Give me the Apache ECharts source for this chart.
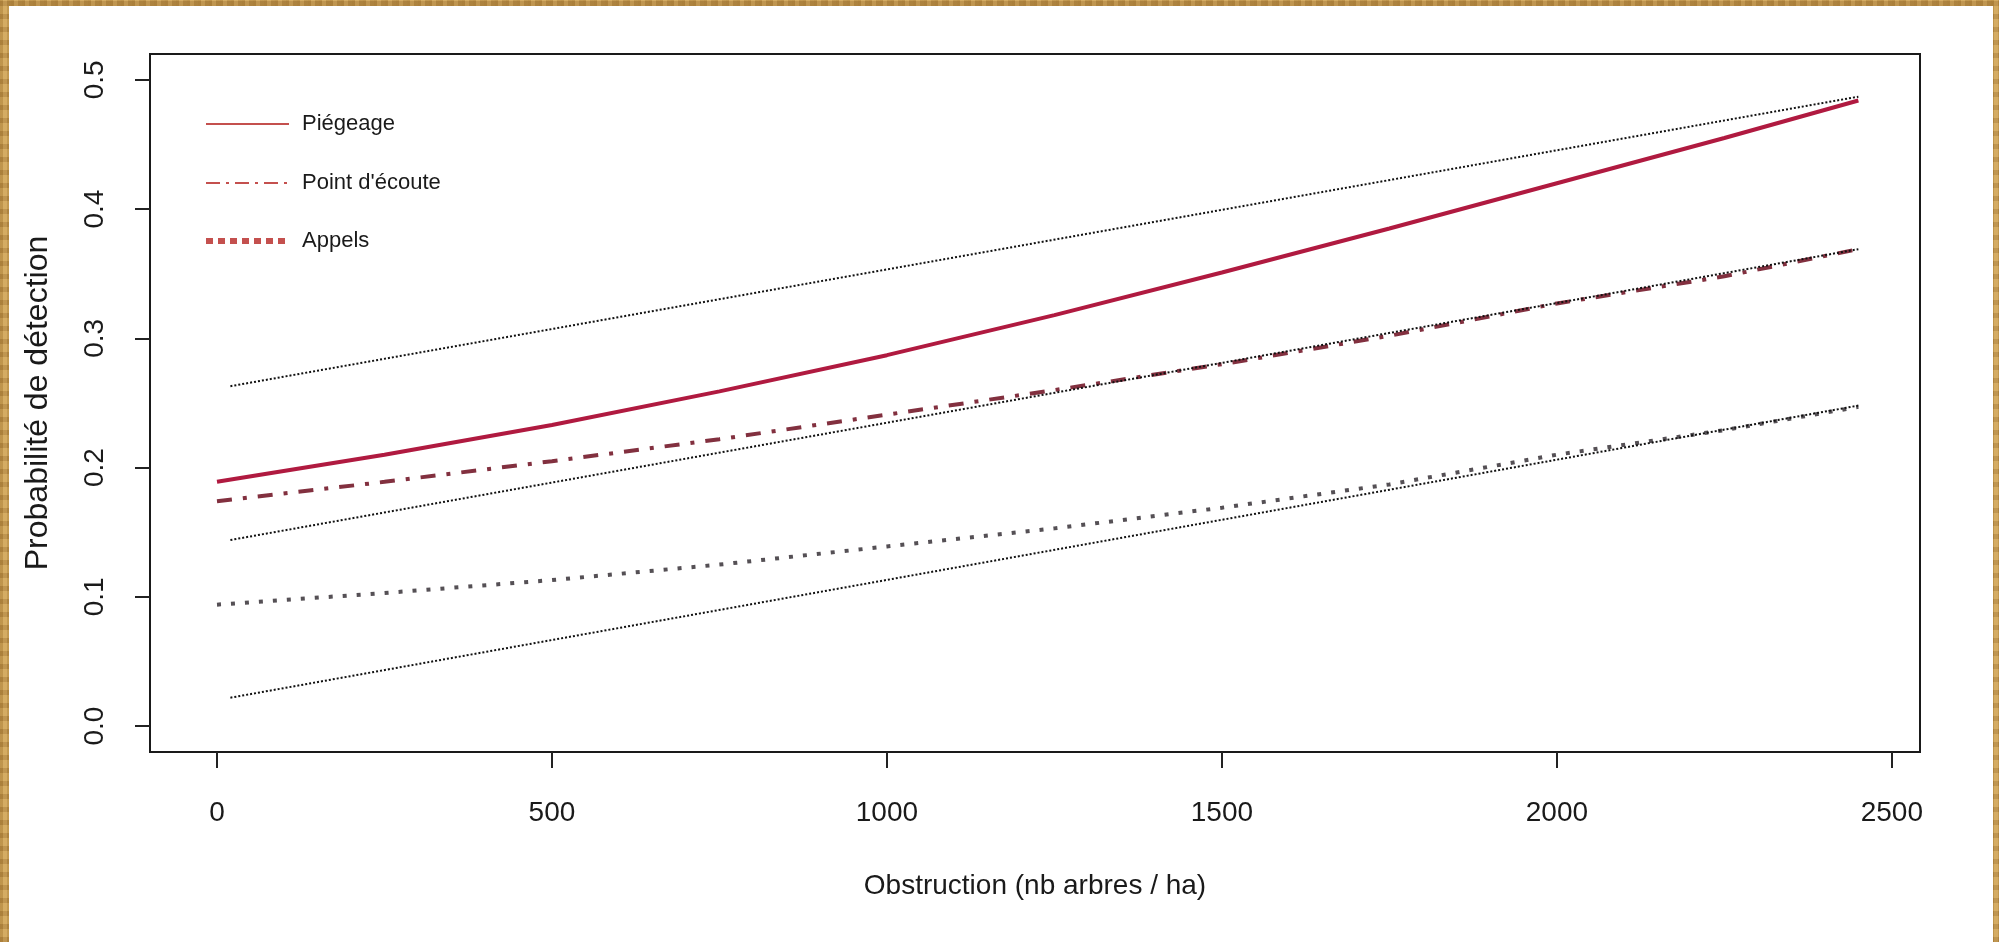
<!DOCTYPE html>
<html>
<head>
<meta charset="utf-8">
<title>Probabilité de détection</title>
<script src="https://cdn.jsdelivr.net/npm/echarts@6/dist/echarts.min.js"></script>
<style>
  html, body {
    margin: 0;
    padding: 0;
    width: 1999px;
    height: 942px;
    overflow: hidden;
    background:
      repeating-linear-gradient(90deg, rgba(120, 80, 20, 0.18) 0 3px, rgba(255, 230, 170, 0.12) 3px 7px, rgba(90, 60, 15, 0.1) 7px 11px),
      repeating-linear-gradient(0deg, rgba(110, 70, 20, 0.2) 0 5px, rgba(240, 210, 140, 0.15) 5px 13px),
      #c99c50;
  }
  #paper {
    position: absolute;
    left: 9px;
    top: 6px;
    width: 1984px;
    height: 936px;
    background: #fff;
  }
  #chart {
    position: absolute;
    left: 0;
    top: 0;
    width: 1999px;
    height: 942px;
  }
</style>
</head>
<body>
<div id="paper"></div>
<div id="chart"></div>
<script>
// valeurs
const obstruction = [0, 250, 500, 750, 1000, 1250, 1500, 1750, 2000, 2250, 2450]
const piegeage = [0.189, 0.210, 0.233, 0.259, 0.287, 0.318, 0.351, 0.385, 0.420, 0.455, 0.484]
const pointEcoute = [0.174, 0.189, 0.205, 0.222, 0.241, 0.260, 0.280, 0.302, 0.327, 0.348, 0.369]
const appels = [0.094, 0.103, 0.113, 0.125, 0.139, 0.153, 0.169, 0.187, 0.210, 0.229, 0.247]

// droites pointillées noires
const refX = [20, 2450]
const refHaut = [0.263, 0.487]
const refMilieu = [0.144, 0.369]
const refBas = [0.022, 0.248]

const xTicks = [0, 500, 1000, 1500, 2000, 2500]
const yTicks = [0, 0.1, 0.2, 0.3, 0.4, 0.5]

const legendNames = ['Piégeage', "Point d'écoute", 'Appels']

const font = "'Liberation Sans', Arial, sans-serif"

function pairs(xs, ys) {
  return xs.map((x, i) => [x, ys[i]])
}

const chart = echarts.init(document.getElementById('chart'))

const refStyle = {
  color: '#111',
  width: 2,
  type: [2, 2]
}

chart.setOption({
  animation: false,
  backgroundColor: 'transparent',
  textStyle: { fontFamily: font },
  grid: {
    left: 150,
    top: 54,
    right: 79,
    bottom: 190,
    show: true,
    borderColor: '#1a1a1a',
    borderWidth: 2
  },
  xAxis: {
    type: 'value',
    min: -100,
    max: 2542,
    axisLine: { show: false, onZero: false },
    splitLine: { show: false },
    axisTick: {
      show: true,
      customValues: xTicks,
      length: 16,
      lineStyle: { color: '#222', width: 2 }
    },
    axisLabel: {
      customValues: xTicks,
      margin: 47,
      fontSize: 28,
      color: '#1a1a1a',
      fontFamily: font,
      formatter: v => String(v)
    },
    name: 'Obstruction (nb arbres / ha)',
    nameLocation: 'middle',
    nameGap: 120,
    nameTextStyle: { fontSize: 28, color: '#1a1a1a', fontFamily: font }
  },
  yAxis: {
    type: 'value',
    min: -0.02,
    max: 0.52,
    axisLine: { show: false, onZero: false },
    splitLine: { show: false },
    axisTick: {
      show: true,
      customValues: yTicks,
      length: 15,
      lineStyle: { color: '#222', width: 2 }
    },
    axisLabel: {
      customValues: yTicks,
      rotate: 90,
      margin: 41,
      fontSize: 28,
      color: '#1a1a1a',
      fontFamily: font,
      formatter: v => v.toFixed(1)
    },
    name: 'Probabilité de détection',
    nameLocation: 'middle',
    nameGap: 96,
    nameTextStyle: { fontSize: 32, color: '#1a1a1a', fontFamily: font }
  },
  graphic: [
    // légende dessinée à la main (style R)
    {
      type: 'line', shape: { x1: 206, y1: 124, x2: 289, y2: 124 },
      style: { stroke: '#c4504e', lineWidth: 2 }
    },
    {
      type: 'line', shape: { x1: 206, y1: 183, x2: 289, y2: 183 },
      style: { stroke: '#c4504e', lineWidth: 2, lineDash: [14, 6, 3, 6] }
    },
    {
      type: 'line', shape: { x1: 206, y1: 241, x2: 289, y2: 241 },
      style: { stroke: '#c4504e', lineWidth: 6, lineDash: [7, 5] }
    },
    {
      type: 'text', left: 302, top: 113,
      style: { text: legendNames[0], fontSize: 22, fill: '#1a1a1a', fontFamily: font }
    },
    {
      type: 'text', left: 302, top: 172,
      style: { text: legendNames[1], fontSize: 22, fill: '#1a1a1a', fontFamily: font }
    },
    {
      type: 'text', left: 302, top: 230,
      style: { text: legendNames[2], fontSize: 22, fill: '#1a1a1a', fontFamily: font }
    }
  ],
  series: [
    {
      name: legendNames[0],
      type: 'line',
      symbol: 'none',
      data: pairs(obstruction, piegeage),
      lineStyle: { color: '#b01a40', width: 4 }
    },
    {
      name: legendNames[1],
      type: 'line',
      symbol: 'none',
      data: pairs(obstruction, pointEcoute),
      lineStyle: { color: '#82303f', width: 4, type: [15, 11, 4, 11], cap: 'butt' }
    },
    {
      name: legendNames[2],
      type: 'line',
      symbol: 'none',
      data: pairs(obstruction, appels),
      lineStyle: { color: '#555055', width: 4, type: [4, 10], cap: 'butt' }
    },
    {
      name: 'haut',
      type: 'line',
      symbol: 'none',
      silent: true,
      data: pairs(refX, refHaut),
      lineStyle: refStyle
    },
    {
      name: 'milieu',
      type: 'line',
      symbol: 'none',
      silent: true,
      data: pairs(refX, refMilieu),
      lineStyle: refStyle
    },
    {
      name: 'bas',
      type: 'line',
      symbol: 'none',
      silent: true,
      data: pairs(refX, refBas),
      lineStyle: refStyle
    }
  ]
})
</script>
</body>
</html>
